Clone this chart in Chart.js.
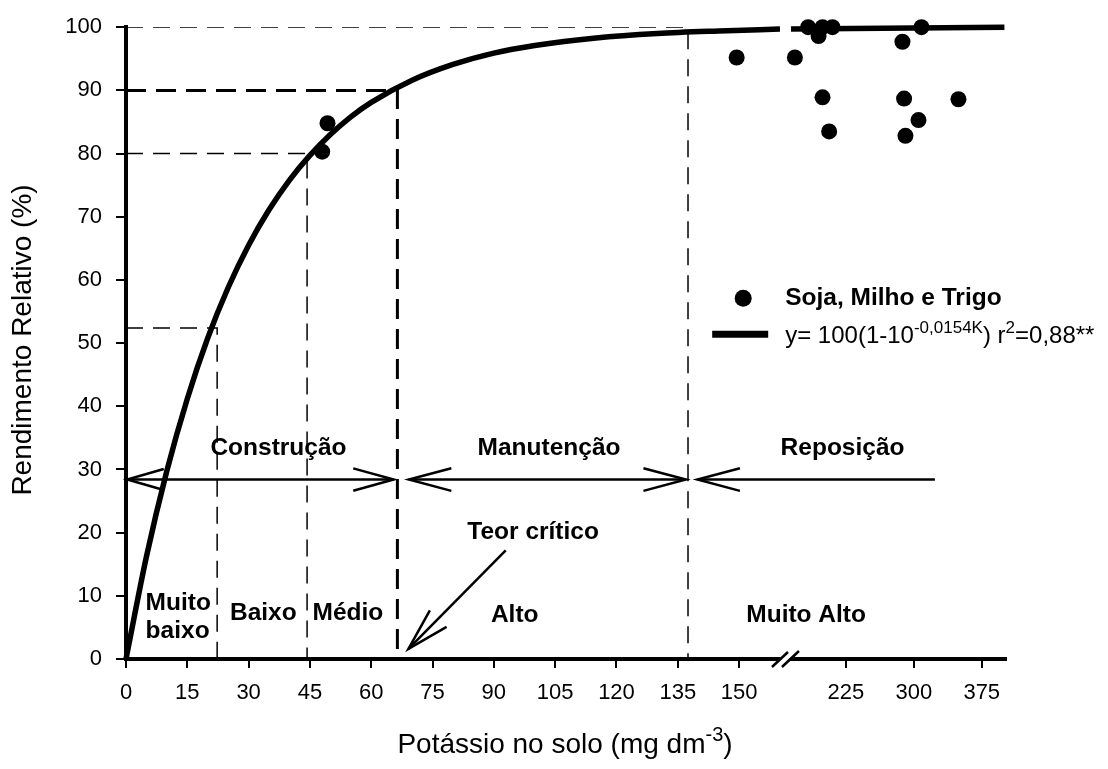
<!DOCTYPE html>
<html>
<head>
<meta charset="utf-8">
<script src="https://cdn.jsdelivr.net/npm/chart.js@4.4.1/dist/chart.umd.min.js"></script>
<style>
html, body { margin: 0; padding: 0; background: #fff; }
#wrap { width: 1108px; height: 769px; position: relative; }
</style>
</head>
<body>
<div id="wrap"><canvas id="chartK"></canvas></div>
<script>
var FAMILY = "'Liberation Sans', Arial, sans-serif";

// observed relative yield (%) vs soil K (mg dm-3)
var pointK = [48.0, 49.3, 149.4, 168.8, 183.4, 194.9, 199.3, 210.3, 199.3, 206.6, 287.5, 289.3, 290.8, 305.2, 308.5, 349.3];
var pointY = [80.3, 84.8, 95.2, 95.2, 100, 98.6, 100, 100, 88.9, 83.5, 97.7, 88.7, 82.8, 85.3, 100, 88.6];

// fitted response curve, left of the axis break and right of it
var curveK = [0, 5, 10, 15, 20, 25, 30, 35, 40, 45, 50, 55, 60, 70, 80, 90, 100, 115, 130, 145, 160];
var curveY = [0, 16.2, 29.8, 41.2, 50.8, 58.8, 65.5, 71.1, 75.8, 79.7, 83.0, 85.8, 88.1, 91.6, 94.1, 95.9, 97.1, 98.3, 99.0, 99.4, 99.7];
var curveK2 = [164.5, 400];
var curveY2 = [99.7, 100];

// class limits: K value and yield where the dashed guides meet the curve
var limitK = [22.3, 44.3, 66.4, 137.5];
var limitY = [52.4, 80, 90, 100];
var limitW = [1.5, 1.5, 3, 1.5];

var xTickK = [0, 15, 30, 45, 60, 75, 90, 105, 120, 135, 150, 225, 300, 375];

// axis is cut after 160; the upper range is squeezed
var BREAK_K = 160;
function axisU(k) {
    return k <= BREAK_K ? k : 161.7 + (k - BREAK_K) * 0.2217;
}

function pts(ks, ys) {
    return ks.map(function(k, i) { return { x: axisU(k), y: ys[i] }; });
}

var datasets = [];
datasets.push({
    label: 'Soja, Milho e Trigo',
    data: pts(pointK, pointY),
    backgroundColor: '#000',
    borderWidth: 0,
    pointRadius: 8,
    pointHoverRadius: 8,
    showLine: false,
    clip: false,
    order: 0
});
datasets.push({
    data: pts(curveK, curveY),
    borderColor: '#000',
    borderWidth: 5.5,
    pointRadius: 0,
    showLine: true,
    cubicInterpolationMode: 'monotone',
    clip: false,
    order: 1
});
datasets.push({
    data: pts(curveK2, curveY2),
    borderColor: '#000',
    borderWidth: 5.5,
    pointRadius: 0,
    showLine: true,
    clip: false,
    order: 1
});
limitK.forEach(function(k, i) {
    datasets.push({
        data: pts([0, k, k], [limitY[i], limitY[i], 0]),
        borderColor: '#000',
        borderWidth: limitW[i],
        borderDash: limitW[i] > 2 ? [20, 10] : [17, 10],
        pointRadius: 0,
        showLine: true,
        tension: 0,
        order: 2
    });
});

function arrowHead(ctx, tx, ty, fx, fy, len, spread) {
    var a = Math.atan2(fy - ty, fx - tx);
    ctx.beginPath();
    ctx.moveTo(tx + len * Math.cos(a + spread), ty + len * Math.sin(a + spread));
    ctx.lineTo(tx, ty);
    ctx.lineTo(tx + len * Math.cos(a - spread), ty + len * Math.sin(a - spread));
    ctx.stroke();
}

// text with superscript runs; parts = [{t, sup}]
function richText(ctx, parts, x, y, size, bold, align) {
    var w = 0;
    parts.forEach(function(p) {
        ctx.font = (bold ? 'bold ' : '') + (p.sup ? Math.round(size * 0.72) : size) + 'px ' + FAMILY;
        p.w = ctx.measureText(p.t).width;
        w += p.w;
    });
    var cx = align === 'center' ? x - w / 2 : x;
    ctx.textAlign = 'left';
    ctx.textBaseline = 'alphabetic';
    parts.forEach(function(p) {
        ctx.font = (bold ? 'bold ' : '') + (p.sup ? Math.round(size * 0.72) : size) + 'px ' + FAMILY;
        ctx.fillText(p.t, cx, p.sup ? y - size * 0.42 : y);
        cx += p.w;
    });
}

var labels = [
    { t: 'Construção', k: 37.3, y: 33.3 },
    { t: 'Manutenção', k: 103.5, y: 33.3 },
    { t: 'Reposição', k: 221.4, y: 33.3 },
    { t: 'Teor crítico', k: 99.6, y: 20.0 },
    { t: 'Baixo', k: 33.6, y: 7.2 },
    { t: 'Médio', k: 54.3, y: 7.2 },
    { t: 'Alto', k: 95.1, y: 6.9 },
    { t: 'Muito Alto', k: 181.2, y: 6.9 }
];

var decor = {
    id: 'decor',
    beforeDraw: function(chart) {
        var ctx = chart.ctx;
        ctx.save();
        ctx.fillStyle = '#fff';
        ctx.fillRect(0, 0, chart.width, chart.height);
        ctx.restore();
    },
    afterDraw: function(chart) {
        var ctx = chart.ctx, xs = chart.scales.x, ys = chart.scales.y;
        function px(k) { return xs.getPixelForValue(axisU(k)); }
        function py(v) { return ys.getPixelForValue(v); }
        ctx.save();
        ctx.strokeStyle = '#000';
        ctx.fillStyle = '#000';
        ctx.lineCap = 'butt';

        // fertilisation arrows
        var ay = py(28.4);
        ctx.lineWidth = 2.5;
        ctx.beginPath();
        ctx.moveTo(px(0.3), ay); ctx.lineTo(px(65.5), ay);
        ctx.moveTo(px(69.2), ay); ctx.lineTo(px(137), ay);
        ctx.moveTo(px(139.8), ay); ctx.lineTo(px(323.3), ay);
        ctx.stroke();
        arrowHead(ctx, px(0.3), ay, px(65.5), ay, 38, 0.28);
        arrowHead(ctx, px(65.5), ay, px(0.3), ay, 42, 0.27);
        arrowHead(ctx, px(69.2), ay, px(137), ay, 44, 0.26);
        arrowHead(ctx, px(137), ay, px(69.2), ay, 44, 0.26);
        arrowHead(ctx, px(139.8), ay, px(323.3), ay, 44, 0.26);

        // critical level pointer
        var tx = px(69.1), ty = py(1.6), fx = px(92.9), fy = py(17.2);
        ctx.beginPath();
        ctx.moveTo(fx, fy); ctx.lineTo(tx, ty);
        ctx.stroke();
        arrowHead(ctx, tx, ty, fx, fy, 44, 0.27);

        // labels
        ctx.font = 'bold 24.5px ' + FAMILY;
        ctx.textAlign = 'center';
        ctx.textBaseline = 'middle';
        labels.forEach(function(l) {
            ctx.fillText(l.t, px(l.k), py(l.y));
        });
        ctx.textAlign = 'left';
        ctx.fillText('Muito', px(4.8), py(8.8));
        ctx.fillText('baixo', px(4.8), py(4.4));

        // legend
        var lx = px(151), ly = py(57.1), ly2 = py(51.4);
        ctx.beginPath();
        ctx.arc(lx, ly, 8.5, 0, Math.PI * 2);
        ctx.fill();
        ctx.fillText('Soja, Milho e Trigo', lx + 42, ly);
        ctx.lineWidth = 7;
        ctx.beginPath();
        ctx.moveTo(lx - 31, ly2); ctx.lineTo(lx + 25, ly2);
        ctx.stroke();
        richText(ctx, [
            { t: 'y= 100(1-10' }, { t: '-0,0154K', sup: true },
            { t: ') r' }, { t: '2', sup: true }, { t: '=0,88**' }
        ], lx + 42, ly2 + 8.5, 24, false, 'left');

        // axis break mark
        var bx = px(BREAK_K) + 6, by = ys.bottom;
        ctx.fillStyle = '#fff';
        ctx.beginPath();
        ctx.moveTo(bx - 11, by + 4); ctx.lineTo(bx - 3, by - 4);
        ctx.lineTo(bx + 7, by - 4); ctx.lineTo(bx - 1, by + 4);
        ctx.closePath();
        ctx.fill();
        ctx.fillStyle = '#000';
        ctx.lineWidth = 2.5;
        ctx.beginPath();
        ctx.moveTo(bx - 14, by + 8); ctx.lineTo(bx + 2, by - 7);
        ctx.moveTo(bx - 4, by + 8); ctx.lineTo(bx + 13, by - 8);
        ctx.stroke();

        // axis titles
        ctx.font = '28px ' + FAMILY;
        ctx.textAlign = 'center';
        ctx.textBaseline = 'middle';
        ctx.save();
        ctx.translate(23, 340);
        ctx.rotate(-Math.PI / 2);
        ctx.fillText('Rendimento Relativo (%)', 0, 0);
        ctx.restore();
        richText(ctx, [
            { t: 'Potássio no solo (mg dm' }, { t: '-3', sup: true }, { t: ')' }
        ], 565, 753, 28, false, 'center');
        ctx.restore();
    }
};

Chart.defaults.font.family = FAMILY;
Chart.defaults.color = '#000';

new Chart(document.getElementById('chartK'), {
    type: 'scatter',
    data: { datasets: datasets },
    options: {
        responsive: true,
        maintainAspectRatio: false,
        animation: false,
        events: [],
        layout: { padding: { top: 25, right: 102, left: 0, bottom: 0 } },
        plugins: { legend: { display: false }, tooltip: { enabled: false } },
        scales: {
            x: {
                type: 'linear',
                min: 0,
                max: 215.3,
                afterBuildTicks: function(scale) {
                    scale.ticks = xTickK.map(function(k) { return { value: axisU(k) }; });
                },
                afterFit: function(scale) { scale.height = 110; },
                ticks: {
                    autoSkip: false,
                    maxRotation: 0,
                    padding: 12,
                    font: { size: 22 },
                    callback: function(v, i) { return xTickK[i]; }
                },
                grid: { drawOnChartArea: false, color: '#000', lineWidth: 2, tickLength: 9 },
                border: { display: true, color: '#000', width: 4 }
            },
            y: {
                min: 0,
                max: 100,
                afterFit: function(scale) { scale.width = 126; },
                ticks: { stepSize: 10, padding: 14, font: { size: 22 } },
                grid: { drawOnChartArea: false, color: '#000', lineWidth: 2, tickLength: 10 },
                border: { display: true, color: '#000', width: 4 }
            }
        }
    },
    plugins: [decor]
});
</script>
</body>
</html>
